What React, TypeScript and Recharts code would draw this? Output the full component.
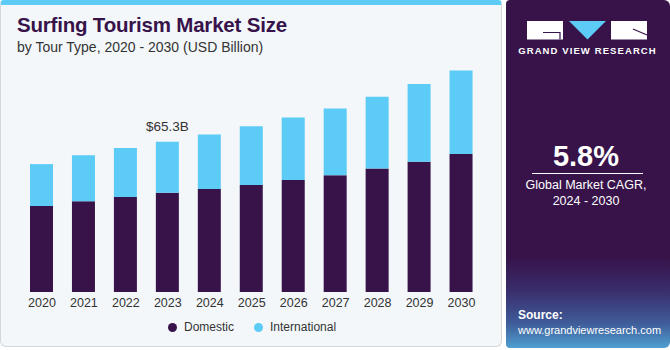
import React from "react";
import { BarChart, Bar, XAxis, YAxis, LabelList } from "recharts";

const YEARS = ["2020", "2021", "2022", "2023", "2024", "2025", "2026", "2027", "2028", "2029", "2030"];
const DOMESTIC = [37.4, 39.5, 41.3, 43.1, 44.8, 46.5, 48.7, 50.8, 53.7, 56.6, 60.0];
const INTERNATIONAL = [18.2, 20.0, 21.3, 22.2, 23.7, 25.6, 27.2, 29.0, 31.2, 33.8, 36.3];
const LABELLED_YEAR = "2023";
const LABEL_TEXT = "$65.3B";

const PURPLE = "#37134a";
const BLUE = "#5ccbf5";
const FONT = '"Liberation Sans", Arial, sans-serif';

const data = YEARS.map((year, i) => ({
  year,
  domestic: DOMESTIC[i],
  international: INTERNATIONAL[i],
}));

function TopLabel(props: any) {
  const { x, y, width, index } = props;
  if (data[index]?.year !== LABELLED_YEAR) return null;
  return (
    <text
      x={x + width / 2}
      y={y - 11}
      textAnchor="middle"
      fontSize={13.5}
      fill="#333"
      fontFamily={FONT}
    >
      {LABEL_TEXT}
    </text>
  );
}

function Logo() {
  return (
    <svg width={164} height={60} style={{ position: "absolute", left: 0, top: 0 }}>
      {/* G */}
      <rect x={21} y={21} width={36} height={18.5} fill="#fff" />
      <path d="M37 32.5 H54 V39.5" stroke={PURPLE} strokeWidth={1.2} fill="none" />
      {/* V */}
      <polygon points="63,21 100,21 81.5,39.5" fill={BLUE} />
      {/* R */}
      <rect x={105} y={21} width={36} height={18.5} fill="#fff" />
      <path d="M127 29 L141 35" stroke={PURPLE} strokeWidth={1.2} fill="none" />
      <text
        x={81.5}
        y={54}
        textAnchor="middle"
        fill="#fff"
        fontSize={9.5}
        fontWeight={700}
        letterSpacing={1.1}
        fontFamily={FONT}
      >
        GRAND VIEW RESEARCH
      </text>
    </svg>
  );
}

export default function App() {
  return (
    <div
      style={{
        position: "absolute",
        left: 0,
        top: 0,
        width: 670,
        height: 350,
        background: "#ffffff",
        fontFamily: FONT,
        overflow: "hidden",
      }}
    >
      {/* left panel */}
      <div
        style={{
          position: "absolute",
          left: 0,
          top: 0,
          width: 502,
          height: 347,
          background: "#f3f7fa",
          border: "1px solid #d3d7db",
          borderTop: `5px solid ${BLUE}`,
          borderRadius: "4px 4px 6px 6px",
          boxSizing: "border-box",
        }}
      />
      <div
        style={{
          position: "absolute",
          left: 17,
          top: 13,
          fontSize: 20.5,
          fontWeight: 700,
          color: PURPLE,
          letterSpacing: -0.2,
        }}
      >
        Surfing Tourism Market Size
      </div>
      <div style={{ position: "absolute", left: 17, top: 39, fontSize: 14, color: "#333" }}>
        by Tour Type, 2020 - 2030 (USD Billion)
      </div>

      <div style={{ position: "absolute", left: 0, top: 0 }}>
        <BarChart
          width={500}
          height={350}
          data={data}
          margin={{ top: 62, right: 17.5, left: 21, bottom: 28 }}
          barSize={23}
        >
          <XAxis
            dataKey="year"
            tickLine={false}
            axisLine={false}
            height={30}
            interval={0}
            tickMargin={0}
            tick={{ fontSize: 12.5, fill: "#333", fontFamily: FONT }}
          />
          <YAxis hide domain={[0, 100]} allowDataOverflow />
          <Bar dataKey="domestic" stackId="a" fill={PURPLE} isAnimationActive={false} />
          <Bar dataKey="international" stackId="a" fill={BLUE} isAnimationActive={false}>
            <LabelList dataKey="international" content={TopLabel} />
          </Bar>
        </BarChart>
      </div>

      {/* legend */}
      <div
        style={{
          position: "absolute",
          top: 320,
          left: 168,
          display: "flex",
          alignItems: "center",
          fontSize: 12,
          color: "#333",
        }}
      >
        <span style={{ width: 9, height: 9, borderRadius: "50%", background: PURPLE, marginRight: 7 }} />
        <span style={{ marginRight: 20 }}>Domestic</span>
        <span style={{ width: 9, height: 9, borderRadius: "50%", background: BLUE, marginRight: 7 }} />
        <span>International</span>
      </div>

      {/* right panel */}
      <div
        style={{
          position: "absolute",
          left: 506,
          top: 0,
          width: 164,
          height: 348,
          borderRadius: "4px 6px 6px 4px",
          background: `linear-gradient(180deg, ${PURPLE} 0%, ${PURPLE} 74%, #3a2f6e 84%, #3f5d9a 93%, #4f9fd0 100%)`,
          color: "#fff",
          overflow: "hidden",
        }}
      >
        <Logo />
        <div
          style={{
            position: "absolute",
            top: 140,
            width: 164,
            textAlign: "center",
            fontSize: 29,
            fontWeight: 700,
            left: -2,
          }}
        >
          5.8%
        </div>
        <div style={{ position: "absolute", top: 173, left: 26, width: 111, height: 1, background: "#fff" }} />
        <div
          style={{
            position: "absolute",
            top: 178,
            left: -2,
            width: 164,
            textAlign: "center",
            fontSize: 12.5,
            lineHeight: "15.5px",
          }}
        >
          Global Market CAGR,
          <br />
          2024 - 2030
        </div>
        <div style={{ position: "absolute", top: 308, left: 12, fontSize: 11, lineHeight: "15px" }}>
          <b style={{ fontSize: 12 }}>Source:</b>
          <br />
          www.grandviewresearch.com
        </div>
      </div>
    </div>
  );
}
